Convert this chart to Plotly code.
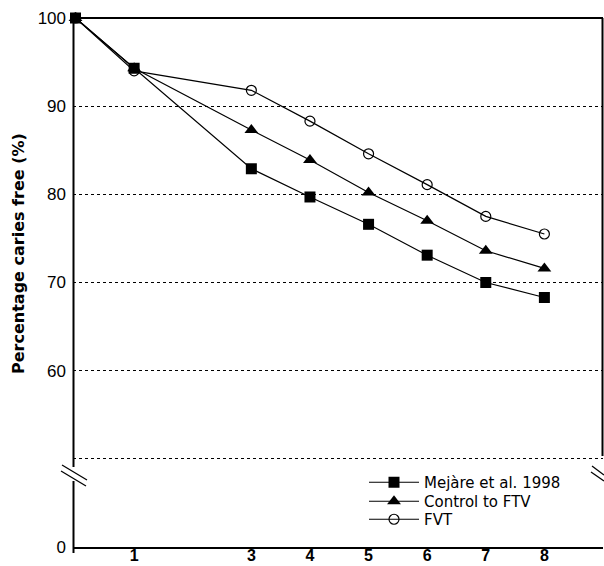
import plotly.graph_objects as go

# ---- data ----
years = [0, 1, 3, 4, 5, 6, 7, 8]
mejare = [100, 94.3, 82.9, 79.7, 76.6, 73.1, 70.0, 68.3]
control = [100, 94.3, 87.3, 83.9, 80.2, 77.0, 73.6, 71.6]
fvt = [100, 94.0, 91.8, 88.3, 84.6, 81.1, 77.5, 75.5]
series_names = ["Mejàre et al. 1998", "Control to FTV", "FVT"]
x_ticks = [1, 3, 4, 5, 6, 7, 8]
y_tickvals = [40, 60, 70, 80, 90, 100]
y_ticktext = ["0", "60", "70", "80", "90", "100"]
grid_vals = [50, 60, 70, 80, 90]

W, H = 604, 566
L, R, T, B = 73, 1, 18, 19
PW, PH = W - L - R, H - T - B

def px(xp):
    return (xp - L) / PW

def py(yp):
    return (H - B - yp) / PH

FONT = "Liberation Sans, Arial, sans-serif"
DV = "DejaVu Sans, sans-serif"

fig = go.Figure()
fig.add_trace(go.Scatter(x=years, y=mejare, name=series_names[0], mode="lines+markers",
                         line=dict(color="black", width=1.2),
                         marker=dict(symbol="square", size=11, color="black"),
                         cliponaxis=False, legend="legend"))
fig.add_trace(go.Scatter(x=years, y=control, name=series_names[1], mode="lines+markers",
                         line=dict(color="black", width=1.2),
                         marker=dict(symbol="triangle-up", size=12, color="black"),
                         cliponaxis=False, legend="legend2"))
fig.add_trace(go.Scatter(x=years, y=fvt, name=series_names[2], mode="lines+markers",
                         line=dict(color="black", width=1.2),
                         marker=dict(symbol="circle-open", size=10, color="black",
                                     line=dict(width=1.2, color="black")),
                         cliponaxis=False, legend="legend3"))

shapes = []
blk = dict(color="black", width=2)
shapes.append(dict(type="line", xref="paper", yref="paper", x0=px(73), x1=px(603), y0=py(18), y1=py(18), line=blk))
shapes.append(dict(type="line", xref="paper", yref="paper", x0=px(602.5), x1=px(602.5), y0=py(18), y1=py(456), line=blk))
shapes.append(dict(type="line", xref="paper", yref="paper", x0=px(73.5), x1=px(73.5), y0=py(18), y1=py(467), line=blk))
shapes.append(dict(type="line", xref="paper", yref="paper", x0=px(73.5), x1=px(73.5), y0=py(481), y1=py(553), line=blk))
thin = dict(color="black", width=1.3)
shapes.append(dict(type="line", xref="paper", yref="paper", x0=px(62), x1=px(87), y0=py(465), y1=py(480), line=thin))
shapes.append(dict(type="line", xref="paper", yref="paper", x0=px(61), x1=px(86), y0=py(471), y1=py(486), line=thin))
shapes.append(dict(type="line", xref="paper", yref="paper", x0=px(592), x1=px(604), y0=py(466), y1=py(475), line=thin))
shapes.append(dict(type="line", xref="paper", yref="paper", x0=px(591), x1=px(604), y0=py(472), y1=py(481), line=thin))

def leg(ytop):
    return dict(x=px(364), y=py(ytop), xanchor="left", yanchor="top",
                bgcolor="rgba(0,0,0,0)", font=dict(size=15, family=DV, color="black"),
                itemwidth=50, borderwidth=0)

fig.update_layout(
    width=W, height=H,
    margin=dict(l=L, r=R, t=T, b=B, pad=0),
    paper_bgcolor="white", plot_bgcolor="white",
    font=dict(family=FONT, color="black"),
    showlegend=True,
    legend=leg(466), legend2=leg(485), legend3=leg(503),
    shapes=shapes,
    annotations=[dict(text="<b>Percentage caries free (%)</b>", xref="paper", yref="paper",
                      x=px(18), y=py(254), textangle=-90, showarrow=False,
                      font=dict(size=16, family=DV), xanchor="center", yanchor="middle")],
)
fig.update_xaxes(range=[-0.043, 9.0], tickvals=x_ticks,
                 ticktext=[f"<b>{v}</b>" for v in x_ticks],
                 tickfont=dict(size=16, family=FONT),
                 showgrid=False, zeroline=False, showline=True, linecolor="black", linewidth=2,
                 ticks="", ticklabelstandoff=-7, automargin=False)
fig.update_yaxes(range=[40, 100], tickvals=y_tickvals, ticktext=y_ticktext,
                 tickfont=dict(size=17, family=FONT),
                 showgrid=False, zeroline=False, showline=False, ticks="",
                 ticklabelstandoff=6, automargin=False,
                 minor=dict(tickvals=grid_vals, showgrid=True, gridcolor="black",
                            griddash="dot", gridwidth=1, ticks=""))

fig.write_html("out.html")
